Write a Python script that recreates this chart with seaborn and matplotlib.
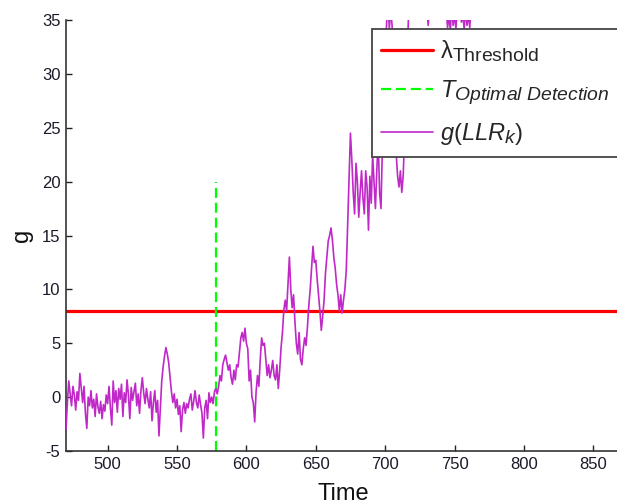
import numpy as np
import pandas as pd
import matplotlib
matplotlib.use("Agg")
import matplotlib.pyplot as plt
import matplotlib._mathtext as _mt
import seaborn as sns

# ---- data -------------------------------------------------------------
t_start = 470
g_llr = [
    -3.0, -0.5, 1.5, 0.3, -0.8, 1.0, 0.2, -1.2, 0.5, -0.3,
    2.2, 0.8, -0.5, 1.0, -1.5, -2.9, 0.0, -0.8, 0.6, -1.0,
    -0.2, -1.8, 0.3, -0.9, -1.5, -0.4, -2.0, -0.7, -1.3, 0.2,
    -0.6, 1.0, -1.0, -2.6, 1.5, -0.5, 0.6, -1.4, 0.8, -0.2,
    1.2, -1.8, 0.4, -0.5, 1.6, 0.2, -2.0, 0.9, -0.3, 0.5,
    1.3, -0.8, 0.3, -1.5, 0.6, 1.8, 0.4, -0.6, 0.8, -0.2,
    -1.0, 0.5, -2.2, -0.5, 0.6, -1.4, -0.3, -3.6, -1.0, 1.5,
    2.8, 3.8, 4.6, 4.0, 3.2, 1.8, 0.5, -0.5, 0.3, -1.0,
    -0.2, -1.6, -0.8, -3.2, -1.2, -0.5, -1.5, -0.6, -1.0, -0.2,
    0.3, -1.2, -0.4, 0.6, -0.5, -1.0, 0.2, -0.7, -1.5, -3.8,
    -1.0, -0.3, -2.0, 0.4, -0.5, 0.0, -0.6, 0.5, 0.8, 0.3,
    1.0, 2.0, 1.5, 3.0, 3.5, 3.9, 3.2, 2.5, 3.0, 1.8,
    1.2, 2.5, 1.6, 3.0, 2.8, 4.2, 5.5, 6.0, 5.2, 6.4,
    5.0, 4.5, 1.5, 2.5, 0.0, -0.5, -2.3, 0.5, 2.0, 1.0,
    3.5, 5.5, 4.8, 5.0, 3.5, 2.0, 3.0, 1.8, 2.5, 3.4,
    2.0, 1.6, 3.0, 0.8, 2.5, 4.6, 6.0, 8.1, 9.0, 8.0,
    10.5, 13.0, 10.0, 8.3, 9.5, 7.0, 5.0, 4.0, 6.0, 3.5,
    3.0, 4.5, 5.5, 4.8, 6.5, 8.5, 10.0, 12.0, 14.0, 12.5,
    12.7, 11.0, 9.5, 8.0, 6.2, 7.5, 9.0, 11.5, 13.0, 14.5,
    15.0, 15.7, 14.6, 13.0, 12.0, 10.5, 9.5, 8.0, 9.5, 7.8,
    9.0, 10.0, 11.8, 16.0, 20.0, 24.5, 22.0, 19.0, 17.0, 21.7,
    20.0, 16.7, 19.0, 21.0, 18.5, 17.0, 21.0, 19.5, 15.5, 20.5,
    18.0, 22.5, 20.0, 17.5, 21.0, 24.0, 19.0, 17.5, 23.0, 27.0,
    31.0, 34.5, 37.0, 34.2, 36.0, 34.5, 30.0, 26.0, 22.5, 20.5,
    19.5, 21.0, 19.0, 20.5, 24.0, 28.0, 32.0, 36.0, 38.0, 37.0,
    39.0, 40.0, 38.5, 41.0, 39.5, 40.5, 38.0, 37.5, 39.0, 37.0,
    36.5, 34.5, 36.0, 37.5, 38.0, 39.5, 40.0, 38.5, 37.0, 38.0,
    37.0, 36.0, 37.5, 38.5, 36.0, 34.3, 35.5, 34.0, 36.5, 34.5,
    35.5, 34.2, 36.0, 37.5, 36.0, 34.8, 35.6, 34.1, 36.2, 34.5,
    35.5, 34.3, 36.5, 38.0, 40.0, 41.0,
]
time = np.arange(t_start, t_start + len(g_llr))

threshold = 8
t_optimal = 578
optimal_marker_top = 20

x_limits = (470, 870)
y_limits = (-5, 35)
x_ticks = [500, 550, 600, 650, 700, 750, 800, 850]
y_ticks = [-5, 0, 5, 10, 15, 20, 25, 30, 35]

df = pd.DataFrame({"Time": time, "g": g_llr})

# ---- style ------------------------------------------------------------
sns.set_theme(style="white")
plt.rcParams["font.family"] = ["Liberation Sans", "DejaVu Sans"]
plt.rcParams["axes.unicode_minus"] = False
plt.rcParams["mathtext.fontset"] = "custom"
plt.rcParams["mathtext.rm"] = "Liberation Sans"
plt.rcParams["mathtext.it"] = "Liberation Sans:italic"
plt.rcParams["mathtext.sf"] = "Liberation Sans"
# larger sub-scripts, closer to TeX-interpreter legends
_mt.SHRINK_FACTOR = 0.82

fig = plt.figure(figsize=(6.17, 5.04), dpi=100)
ax = fig.add_axes([66 / 617, 53 / 504, 555 / 617, 431 / 504])

ax.axhline(threshold, color="#ff0000", lw=2.3, label=r"$\mathrm{λ}_{\mathrm{Threshold}}$", zorder=2)
ax.vlines(t_optimal, y_limits[0], optimal_marker_top, colors="#00ff00", lw=1.6,
          linestyles=(0, (4.5, 2.2)), label=r"$T_{Optimal\ Detection}$", zorder=2)
sns.lineplot(data=df, x="Time", y="g", ax=ax, color="#c028c8", lw=1.2,
             label=r"$\mathit{g(LLR}_{\mathit{k}}\mathit{)}$", zorder=3)

ax.set_xlim(*x_limits)
ax.set_ylim(*y_limits)
ax.set_xticks(x_ticks)
ax.set_yticks(y_ticks)
ax.tick_params(bottom=True, left=True, direction="in", length=4.5, width=1,
               labelsize=12, pad=4, colors="#222222", labelcolor="#1a1a2a")
for side in ("top", "right"):
    ax.spines[side].set_visible(False)
for side in ("left", "bottom"):
    ax.spines[side].set_color("#333333")
    ax.spines[side].set_linewidth(1.2)

ax.set_xlabel("Time", fontsize=17, labelpad=8, color="#111111")
ax.set_ylabel("g", fontsize=17, labelpad=6, color="#111111")

leg = ax.legend(loc="upper left", bbox_to_anchor=(372 / 617, 1 - 29 / 504),
                bbox_transform=fig.transFigure, borderaxespad=0, fontsize=17,
                handlelength=2.2, handletextpad=0.3, borderpad=0.4,
                labelspacing=0.6, fancybox=False, framealpha=1, shadow=False)
leg.get_frame().set_edgecolor("#444444")
leg.get_frame().set_linewidth(1.3)
leg.set_zorder(10)

fig.savefig("out.png", dpi=100)
